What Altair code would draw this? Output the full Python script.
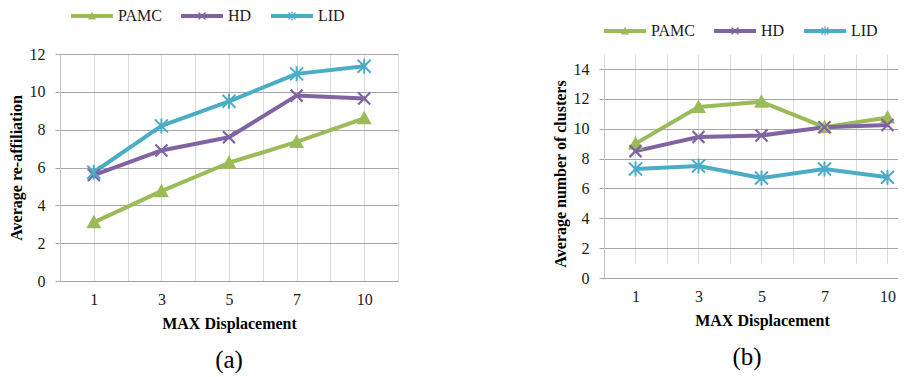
import math
import altair as alt
import pandas as pd

# ---------------- data ----------------
categories = ["1", "3", "5", "7", "10"]
series = ["PAMC", "HD", "LID"]
colors = ["#9BBB59", "#8064A2", "#4BACC6"]

a_pamc = [3.1, 4.75, 6.25, 7.35, 8.6]
a_hd = [5.6, 6.9, 7.6, 9.8, 9.65]
a_lid = [5.75, 8.2, 9.5, 10.95, 11.35]

b_pamc = [9.0, 11.45, 11.8, 10.1, 10.75]
b_hd = [8.5, 9.45, 9.55, 10.1, 10.25]
b_lid = [7.3, 7.5, 6.7, 7.3, 6.75]

a_ticks = [0, 2, 4, 6, 8, 10, 12]
b_ticks = [0, 2, 4, 6, 8, 10, 12, 14]

x_title = "MAX Displacement"
a_ytitle = "Average re-affiliation"
b_ytitle = "Average number  of clusters"
captions = ["(a)", "(b)"]

FONT = "Liberation Serif"

# ---------------- marker shapes (style only) ----------------
SIZE = 144
U = math.sqrt(SIZE) / 2.0  # px per path unit


def _poly(pts):
    n = len(pts)
    area = sum(pts[i][0] * pts[(i + 1) % n][1] - pts[(i + 1) % n][0] * pts[i][1] for i in range(n))
    if area < 0:
        pts = pts[::-1]
    return "M" + "L".join(f"{x / U:.3f},{y / U:.3f}" for x, y in pts) + "Z"


def _seg(x1, y1, x2, y2, h):
    dx, dy = x2 - x1, y2 - y1
    L = math.hypot(dx, dy)
    nx, ny = -dy / L * h, dx / L * h
    return _poly([(x1 + nx, y1 + ny), (x2 + nx, y2 + ny), (x2 - nx, y2 - ny), (x1 - nx, y1 - ny)])


def tri(w, top, bottom):
    return _poly([(0, -top), (w / 2, bottom), (-w / 2, bottom)])


def xmark(r, h):
    return _seg(-r, -r, r, r, h) + _seg(-r, r, r, -r, h)


def star(r, v, h):
    return xmark(r, h) + _seg(0, -v, 0, v, h)


plot_shapes = [tri(15, 7.5, 6), xmark(6, 1.1), star(6.5, 7.5, 1.0)]
bar = _seg(-21, 0, 21, 0, 2.1)
legend_shapes = [bar + tri(8, 4.5, 3.5), bar + xmark(3.5, 0.6), bar + star(3.5, 4.5, 0.6)]

label_expr = "".join(f"datum.value == {i} ? '{c}' : " for i, c in enumerate(categories)) + "''"


def frame(vals):
    rows = []
    for s, v in zip(series, vals):
        for i, c in enumerate(categories):
            rows.append({"idx": i, "cat": c, "series": s, "value": v[i]})
    return pd.DataFrame(rows)


def legend(legend_x, legend_y, col_pad):
    return alt.Legend(
        orient="none", legendX=legend_x, legendY=legend_y, direction="horizontal", title=None,
        labelFont=FONT, labelFontSize=16, labelColor="#1a1a1a", symbolSize=SIZE,
        symbolStrokeWidth=0, symbolOffset=15, labelOffset=18, columnPadding=col_pad, padding=0,
    )


def panel(df, yticks, ytitle, caption, width, height, xdom, xvals, yrange,
          legend_x, legend_y, cap_dx, cap_offset, col_pad, xtitle_x):
    color_scale = alt.Scale(domain=series, range=colors)
    xaxis_kw = dict(
        values=xvals, labelExpr=label_expr, grid=True, gridColor="#d9d9d9",
        ticks=False, domainColor="#a0a0a0", labelPadding=10, labelFont=FONT,
        labelFontSize=16, labelColor="#1a1a1a", title=x_title, titleFont=FONT,
        titleFontSize=16, titleFontWeight="bold", titleColor="black", titlePadding=8,
    )
    if xtitle_x is not None:
        xaxis_kw["titleX"] = xtitle_x
    x = alt.X("idx:Q", scale=alt.Scale(domain=xdom, nice=False, zero=False), axis=alt.Axis(**xaxis_kw))
    if yrange is not None:
        yscale = alt.Scale(domain=[yticks[0], yticks[-1]], nice=False, range=yrange)
    else:
        yscale = alt.Scale(domain=[yticks[0], yticks[-1]], nice=False)
    y = alt.Y(
        "value:Q",
        scale=yscale,
        axis=alt.Axis(
            values=yticks, grid=True, gridColor="#a6a6a6", domainColor="#bfbfbf",
            tickColor="#a6a6a6", tickSize=5, labelPadding=10, labelFont=FONT,
            labelFontSize=16, labelColor="#1a1a1a", title=ytitle, titleFont=FONT,
            titleFontSize=16, titleFontWeight="bold", titleColor="black", titlePadding=5,
        ),
    )
    base = alt.Chart(df)
    lines = base.mark_line(strokeWidth=4, strokeJoin="round", strokeCap="round").encode(
        x=x, y=y, color=alt.Color("series:N", scale=color_scale, legend=None),
        detail="series:N", order="idx:Q",
    )
    pts = base.mark_point(filled=True, size=SIZE, opacity=1, strokeWidth=0).encode(
        x=x, y=y,
        color=alt.Color("series:N", scale=color_scale, legend=None),
        shape=alt.Shape("series:N", scale=alt.Scale(domain=series, range=plot_shapes), legend=None),
    )
    leg = base.transform_filter("false").mark_point(filled=True, size=SIZE, opacity=1, strokeWidth=0).encode(
        x=x, y=y,
        color=alt.Color("series:N", scale=alt.Scale(domain=series, range=colors),
                        legend=legend(legend_x, legend_y, col_pad)),
        shape=alt.Shape("series:N", scale=alt.Scale(domain=series, range=legend_shapes),
                        legend=legend(legend_x, legend_y, col_pad)),
    )
    return alt.layer(lines, pts, leg).resolve_scale(color="independent", shape="independent").properties(
        width=width, height=height,
        title=alt.TitleParams(caption, orient="bottom", font=FONT, fontSize=25, fontWeight="normal",
                              color="black", offset=cap_offset, dx=cap_dx),
    )


half = [i / 2 for i in range(-1, 10)]
chart_a = panel(frame([a_pamc, a_hd, a_lid]), a_ticks, a_ytitle, captions[0], 338, 227,
                [-0.5, 4.5], half, None, 9, -46, 0, 17, 17, None)
chart_b = panel(frame([b_pamc, b_hd, b_lid]), b_ticks, b_ytitle, captions[1], 294, 224,
                [-0.5, 4.167], half[:-1], [224, 15], -2, -31, -4, 17, 17, 158)

chart = alt.hconcat(chart_a, chart_b, spacing=154).properties(padding=0).configure_view(strokeWidth=0)

chart.save("out.html", embed_options={"renderer": "svg", "actions": False})
